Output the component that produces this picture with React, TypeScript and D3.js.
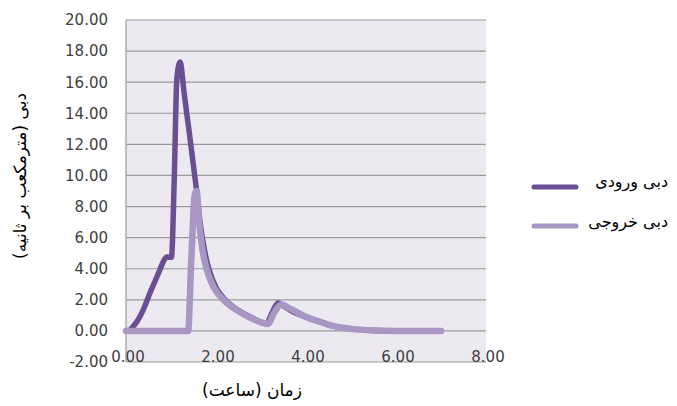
import React from "react";
import * as d3 from "d3";

const inflowTime = [0, 0.08, 0.16, 0.31, 0.42, 0.53, 0.63, 0.72, 0.83, 0.9, 1.01, 1.07, 1.13, 1.2, 1.3, 1.4, 1.5, 1.57, 1.65, 1.75, 1.85, 2.0, 2.2, 2.4, 2.6, 2.8, 3.0, 3.12, 3.22, 3.3, 3.38, 3.5, 3.7, 4.0, 4.3, 4.6, 5.0, 5.5, 6.0, 6.5, 7.0];
const inflowValues = [0, 0.05, 0.28, 0.92, 1.6, 2.42, 3.1, 3.7, 4.46, 4.75, 4.74, 9.5, 16.2, 17.3, 15.1, 12.9, 10.6, 9.0, 6.9, 5.1, 3.9, 2.8, 2.0, 1.5, 1.15, 0.85, 0.55, 0.45, 1.0, 1.5, 1.8, 1.6, 1.25, 0.9, 0.6, 0.32, 0.13, 0.03, 0, 0, 0];

const outflowTime = [0, 0.5, 1.0, 1.38, 1.45, 1.53, 1.57, 1.62, 1.7, 1.8, 1.95, 2.2, 2.4, 2.6, 2.8, 3.0, 3.15, 3.3, 3.45, 3.6, 3.8, 4.0, 4.3, 4.6, 5.0, 5.5, 6.0, 6.5, 7.0];
const outflowValues = [0, 0, 0, 0, 4.5, 8.8, 9.0, 7.2, 5.2, 3.9, 2.8, 1.9, 1.45, 1.1, 0.8, 0.55, 0.45, 1.2, 1.7, 1.5, 1.2, 0.9, 0.6, 0.32, 0.13, 0.03, 0, 0, 0];

const yTicks = [-2, 0, 2, 4, 6, 8, 10, 12, 14, 16, 18, 20];
const xTicks = [0, 2, 4, 6, 8];

const seriesNames = ["دبی ورودی", "دبی خروجی"];
const yTitle = "دبی (مترمکعب بر ثانیه)";
const xTitle = "زمان (ساعت)";

const W = 677;
const H = 406;
const plotL = 126;
const plotR = 486;
const plotT = 20;
const plotB = 362;

const DARK = "#6A4F92";
const LIGHT = "#A797C2";

export default function App() {
  const x = d3.scaleLinear().domain([0, 8]).range([plotL, plotR]);
  const y = d3.scaleLinear().domain([-2, 20]).range([plotB, plotT]);

  const line = d3
    .line<[number, number]>()
    .x((d) => x(d[0]))
    .y((d) => y(d[1]))
    .curve(d3.curveMonotoneX);

  const inflow = inflowTime.map((t, i) => [t, inflowValues[i]] as [number, number]);
  const outflow = outflowTime.map((t, i) => [t, outflowValues[i]] as [number, number]);

  const tickFont = "'DejaVu Sans', Verdana, sans-serif";
  const rtlStyle = { direction: "rtl" as const, unicodeBidi: "embed" as const };

  return (
    <svg
      width={W}
      height={H}
      style={{ position: "absolute", left: 0, top: 0, background: "#fff" }}
    >
      <rect x={plotL} y={plotT} width={plotR - plotL} height={plotB - plotT} fill="#ECEAF0" />
      {yTicks.map((t) => (
        <line
          key={"g" + t}
          x1={plotL}
          x2={plotR}
          y1={y(t)}
          y2={y(t)}
          stroke="#9A9A9A"
          strokeWidth={1.2}
        />
      ))}
      <line x1={plotL} x2={plotL} y1={plotT} y2={plotB} stroke="#9A9A9A" strokeWidth={1.2} />
      {yTicks.map((t) => (
        <text
          key={"y" + t}
          x={108}
          y={y(t)}
          dy="0.36em"
          textAnchor="end"
          fontFamily={tickFont}
          fontSize={15}
          fill="#404040"
        >
          {t.toFixed(2)}
        </text>
      ))}
      {xTicks.map((t) => (
        <text
          key={"x" + t}
          x={x(t) + 2}
          y={362}
          textAnchor="middle"
          fontFamily={tickFont}
          fontSize={15}
          fill="#404040"
        >
          {t.toFixed(2)}
        </text>
      ))}
      <path d={line(inflow) || ""} fill="none" stroke={DARK} strokeWidth={5.5} strokeLinejoin="round" strokeLinecap="round" />
      <path d={line(outflow) || ""} fill="none" stroke={LIGHT} strokeWidth={6.5} strokeLinejoin="round" strokeLinecap="round" />

      <text
        x={252}
        y={396}
        textAnchor="middle"
        direction="rtl"
        style={rtlStyle}
        fontFamily="'DejaVu Sans', sans-serif"
        fontSize={17}
        fill="#000"
      >
        {xTitle}
      </text>
      <text
        transform="translate(20,176) rotate(-90)"
        textAnchor="middle"
        direction="rtl"
        style={rtlStyle}
        dy="0.35em"
        fontFamily="'DejaVu Sans', sans-serif"
        fontSize={17}
        fill="#000"
      >
        {yTitle}
      </text>

      {seriesNames.map((name, i) => {
        const ly = i === 0 ? 187 : 226;
        return (
          <g key={name}>
            <line
              x1={534}
              x2={576}
              y1={ly}
              y2={ly}
              stroke={i === 0 ? DARK : LIGHT}
              strokeWidth={5}
              strokeLinecap="round"
            />
            <text
              x={668}
              y={i === 0 ? 181 : 221}
              dy="0.35em"
              textAnchor="start"
              direction="rtl"
              style={rtlStyle}
              fontFamily="'DejaVu Sans', sans-serif"
              fontSize={16}
              fill="#000"
            >
              {name}
            </text>
          </g>
        );
      })}
    </svg>
  );
}
